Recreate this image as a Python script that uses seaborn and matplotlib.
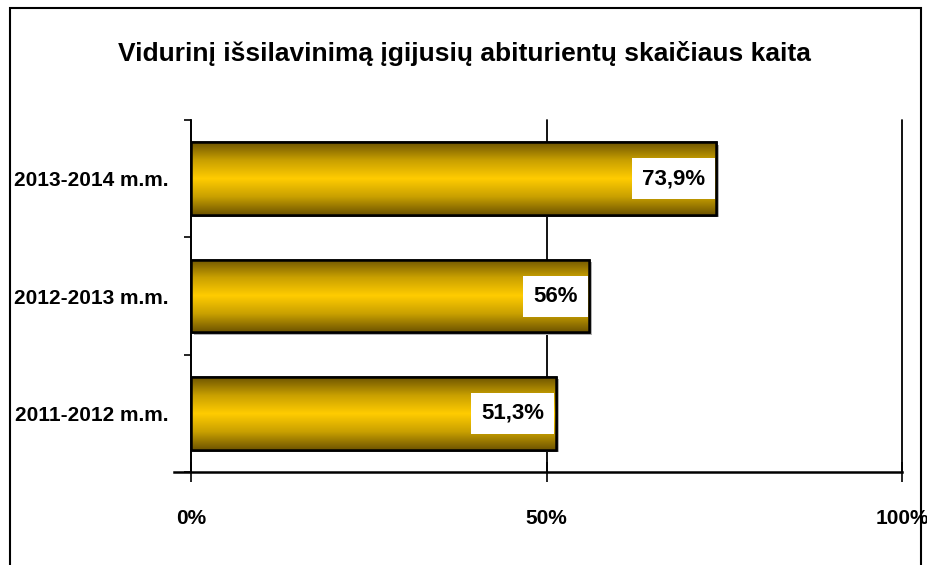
import numpy as np
import pandas as pd
import matplotlib
matplotlib.use('Agg')
import matplotlib.pyplot as plt
import seaborn as sns
from matplotlib.colors import LinearSegmentedColormap
from matplotlib.patches import Rectangle

title = 'Vidurinį išsilavinimą įgijusių abiturientų skaičiaus kaita'
years = ['2013-2014 m.m.', '2012-2013 m.m.', '2011-2012 m.m.']
shares = [73.9, 56.0, 51.3]
labels = ['73,9%', '56%', '51,3%']
xticks = [0, 50, 100]
xticklabels = ['0%', '50%', '100%']

sns.set_style('white')
plt.rcParams['font.family'] = ['Liberation Sans', 'DejaVu Sans']
plt.rcParams['font.weight'] = 'bold'
plt.rcParams['text.color'] = 'black'
plt.rcParams['xtick.color'] = 'black'
plt.rcParams['ytick.color'] = 'black'

df = pd.DataFrame({'year': years, 'share': shares})

fig = plt.figure(figsize=(9.28, 5.65), dpi=100)
ax = fig.add_axes([191/928, 93/565, 711/928, 352/565])

sns.barplot(data=df, x='share', y='year', order=years, orient='h',
            width=0.62, color='#ffcc00', edgecolor='black', linewidth=1.8, ax=ax)

# gradient fill: dark gold at edges, bright yellow in the middle
cmap = LinearSegmentedColormap.from_list('gold', ['#6e5400', '#c9a000', '#ffcc00', '#c9a000', '#6e5400'])
grad = np.linspace(0, 1, 256).reshape(-1, 1)
for p in ax.patches:
    x0, y0 = p.get_x(), p.get_y()
    w, h = p.get_width(), p.get_height()
    # light shadow under/right of the bar
    ax.add_patch(Rectangle((x0 + 0.4, y0 + 0.02), w, h, facecolor='#b0b0b0',
                           edgecolor='none', zorder=p.get_zorder() - 0.1))
    im = ax.imshow(grad, cmap=cmap, aspect='auto', extent=[x0, x0 + w, y0 + h, y0],
                   zorder=p.get_zorder() + 0.1, interpolation='bilinear')
    im.set_clip_path(p)
    ax.add_patch(Rectangle((x0, y0), w, h, fill=False, edgecolor='black',
                           linewidth=1.8, zorder=p.get_zorder() + 0.2))

for i, (v, lab) in enumerate(zip(shares, labels)):
    ax.text(v - 1.6, i, lab, ha='right', va='center', fontsize=16, fontweight='bold',
            color='black', zorder=5,
            bbox=dict(facecolor='white', edgecolor='none', boxstyle='square,pad=0.45'))

ax.set_xlim(0, 100)
ax.set_ylim(2.5, -0.5)
ax.set_xticks(xticks)
ax.set_xticklabels(xticklabels, fontsize=15, fontweight='bold')
ax.set_xlabel('')
ax.set_ylabel('')
ax.tick_params(axis='x', bottom=True, direction='inout', length=14, width=1.2, pad=20)
ax.tick_params(axis='y', which='major', left=False, length=0, pad=16, labelsize=15)
ax.set_yticks([-0.5, 0.5, 1.5, 2.5], minor=True)
ax.tick_params(axis='y', which='minor', left=True, length=5, width=1.2, direction='out')
for t in ax.get_yticklabels():
    t.set_fontweight('bold')

ax.grid(axis='x', color='black', linewidth=1.3)
for gl in ax.get_xgridlines():
    gl.set_clip_on(False)
ax.set_axisbelow(True)
for s in ['top', 'right']:
    ax.spines[s].set_visible(False)
ax.spines['left'].set_color('black')
ax.spines['left'].set_linewidth(1.2)
ax.spines['bottom'].set_color('black')
ax.spines['bottom'].set_linewidth(1.8)
ax.spines['bottom'].set_bounds(-2.4, 100)

fig.text(0.5, 0.905, title, ha='center', va='center', fontsize=19, fontweight='bold')

# outer frame
fig.patches.append(Rectangle((10/928, -0.02), 911/928, 1.02 - 8/565, transform=fig.transFigure,
                             fill=False, edgecolor='black', linewidth=1.5))

fig.savefig('out.png', dpi=100)
